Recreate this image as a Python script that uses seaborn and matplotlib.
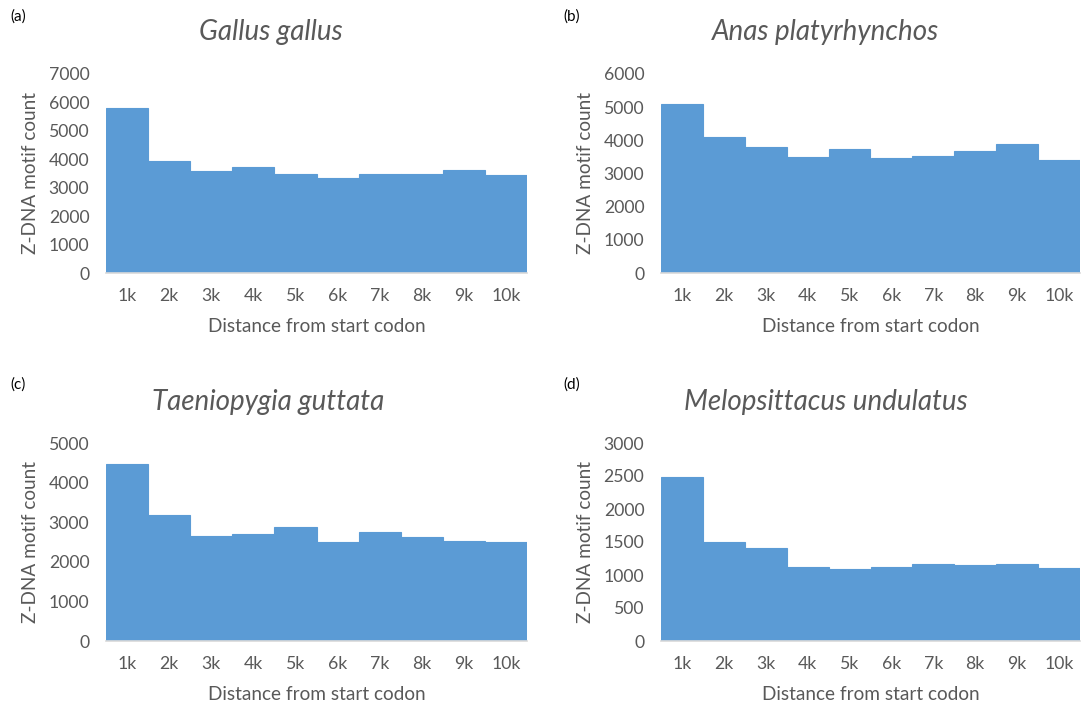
import matplotlib
matplotlib.use("Agg")
import matplotlib.pyplot as plt
import seaborn as sns
import pandas as pd

distances = ["1k", "2k", "3k", "4k", "5k", "6k", "7k", "8k", "9k", "10k"]
gallus = [5820, 3930, 3580, 3720, 3480, 3340, 3480, 3480, 3620, 3450]
anas = [5090, 4090, 3790, 3500, 3750, 3470, 3520, 3670, 3880, 3410]
taeniopygia = [4470, 3180, 2660, 2700, 2890, 2490, 2740, 2620, 2520, 2510]
melopsittacus = [2485, 1493, 1407, 1123, 1093, 1123, 1164, 1149, 1164, 1113]

species = ["Gallus gallus", "Anas platyrhynchos", "Taeniopygia guttata", "Melopsittacus undulatus"]
series = [gallus, anas, taeniopygia, melopsittacus]
panel_tags = ["(a)", "(b)", "(c)", "(d)"]
ymax = [7000, 6000, 5000, 3000]
ystep = [1000, 1000, 1000, 500]

sns.set_theme(style="white")
plt.rcParams["font.family"] = ["Lato", "DejaVu Sans"]

W, H = 1083, 711
fig = plt.figure(figsize=(W / 100, H / 100), dpi=100)

# axes boxes in pixels: left, right, top(ymax tick), bottom(baseline)
boxes = [(106, 527, 74, 273), (661, 1080, 74, 273),
         (106, 527, 443, 641), (661, 1080, 443, 641)]
tag_pos = [(10, 17), (563, 17), (10, 385), (563, 385)]
title_pos = [(271, 32), (826, 32), (268, 402), (826, 402)]

bar_color = "#5b9bd5"
text_color = "#595959"

for i in range(4):
    l, r, t, b = boxes[i]
    ax = fig.add_axes([l / W, 1 - b / H, (r - l) / W, (b - t) / H])
    df = pd.DataFrame({"dist": distances, "count": series[i]})
    sns.barplot(data=df, x="dist", y="count", ax=ax, color=bar_color,
                width=1.0, saturation=1, linewidth=0.8, edgecolor=bar_color)
    ax.set_ylim(0, ymax[i])
    ax.set_xlim(-0.5, len(distances) - 0.5)
    ax.set_yticks(list(range(0, ymax[i] + 1, ystep[i])))
    ax.tick_params(axis="both", length=0, labelsize=12.7, colors=text_color)
    ax.tick_params(axis="y", pad=12)
    ax.tick_params(axis="x", pad=11)
    for s in ["top", "right", "left"]:
        ax.spines[s].set_visible(False)
    ax.spines["bottom"].set_color("#d9d9d9")
    ax.spines["bottom"].set_linewidth(1.2)
    ax.set_xlabel("Distance from start codon", fontsize=13.7, color=text_color, labelpad=10)
    ax.set_ylabel("Z-DNA motif count", fontsize=13.7, color=text_color, labelpad=7)
    fig.text(title_pos[i][0] / W, 1 - title_pos[i][1] / H, species[i],
             fontsize=20, style="italic", color=text_color, ha="center", va="center")
    fig.text(tag_pos[i][0] / W, 1 - tag_pos[i][1] / H, panel_tags[i],
             fontsize=11, color="black", ha="left", va="center")

fig.savefig("out.png", dpi=100, facecolor="white")
